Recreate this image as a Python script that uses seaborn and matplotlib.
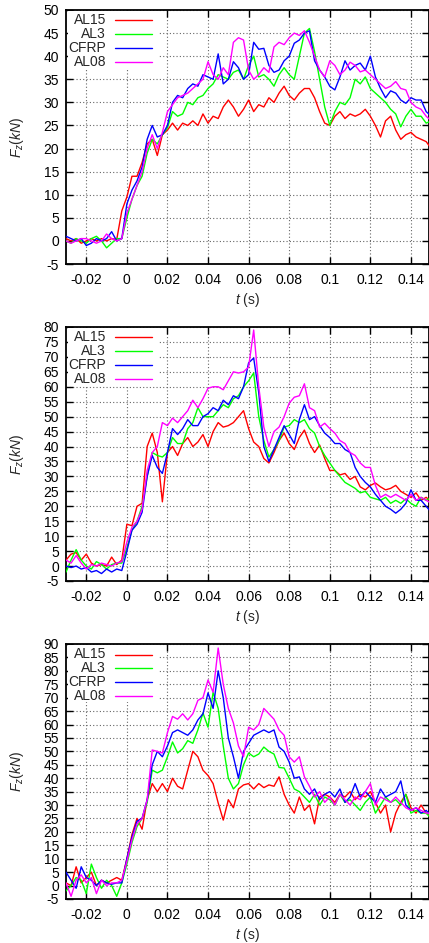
import numpy as np
import pandas as pd
import matplotlib
matplotlib.use("Agg")
import matplotlib.pyplot as plt
from matplotlib.patches import Rectangle
import seaborn as sns

# ---------------- data ----------------
T = np.round(np.arange(-0.03, 0.15001, 0.0025), 4)   # time (s), 73 samples
SPECIMENS = ["AL15", "AL3", "CFRP", "AL08"]
COLORS = ["#ff0000", "#00ff00", "#0000ff", "#ff00ff"]
XTICKS = [-0.02, 0, 0.02, 0.04, 0.06, 0.08, 0.1, 0.12, 0.14]
XTICK_LABELS = ["-0.02", "0", "0.02", "0.04", "0.06", "0.08", "0.1", "0.12", "0.14"]

# Panel 1
P1_AL15 = [0.5, 0, 0.5, -0.5, 0, 0.5, 0, 0.5, 0, 0.5, 0.3,
           6.5, 9.5, 14, 14, 17, 21, 22, 18.5, 23, 24,
           25.5, 24, 25.5, 25, 26, 25, 27.5, 25.5, 27, 26.5,
           29, 30.5, 29, 27, 28.5, 30.5, 28, 29.5, 29, 31,
           30, 32, 33.5, 31.5, 30.5, 32, 33, 33, 31, 28,
           25.5, 25, 27, 28, 26.5, 27.5, 27, 27.5, 28.5, 27,
           25, 22.5, 26, 27, 24, 22, 23, 23.5, 22.5, 22, 21.5, 20]
P1_AL3 = [0, -0.5, 0.5, 0, -0.5, 0.5, 1, 0, -1.5, -0.5, 0.5,
          0.5, 5, 9, 12, 14, 19, 22, 21, 23, 24.5,
          28, 27, 27.5, 30, 29.5, 31, 31.5, 33, 34, 36,
          35.5, 35, 36.5, 37, 35, 38, 40, 35.5, 36, 35,
          33.5, 36, 37.5, 36, 35, 40, 45, 46, 41, 35,
          29, 25, 28, 30, 29.5, 31, 35, 34, 35.5, 33,
          32, 31, 30, 28.5, 27.5, 24.7, 27, 28.5, 27, 27, 25.5, 26]
P1_CFRP = [1, 0.5, 0, 0.5, -1, -0.5, 0.5, 0, 0.5, 2, 0,
           0.5, 8, 11, 13, 16, 22, 25, 22.5, 23, 25,
           30, 31.5, 31, 33, 34, 33.5, 36, 35.5, 35, 40.5,
           34, 35, 38.8, 37.5, 35, 36, 43, 41.5, 41.7, 38,
           36.5, 37, 39, 40, 42.8, 43.5, 45, 45.5, 39, 37,
           35.5, 33.5, 32.7, 35.5, 39, 37, 38, 38.5, 37, 40,
           35.5, 33, 31, 32.5, 32, 30.5, 29.8, 31, 30.5, 30.5, 28, 27]
P1_AL08 = [0, -0.5, 0, 0.5, 0.5, 0, -0.5, 0, 1.5, 0.5, 0,
           0.5, 6, 9, 12, 15, 20, 23, 20, 23.5, 28,
           29.5, 31, 31.5, 32, 33, 34, 35, 38.8, 36, 35,
           37.5, 36, 43, 44, 43.5, 37, 35, 36, 37.5, 36.5,
           42, 43, 42.5, 44, 45, 44.5, 45.5, 43, 40, 37,
           35.5, 39, 38, 36, 37, 38.7, 38, 36.6, 37, 36,
           35, 34, 33, 33.5, 34.5, 33, 32.7, 30, 29, 28.5, 27, 26]

# Panel 2
P2_AL15 = [2, 4, 4.5, 2, 4, 1, 0, 0.5, 0, 3, 0.5,
           2, 14, 13.5, 20, 21, 40, 44.5, 38, 21.5, 38,
           40, 37, 41, 43, 40, 41.5, 44, 40, 45, 48,
           46.5, 47, 48, 50, 52, 46, 41.5, 40, 36, 34.5,
           38, 42, 44.5, 41, 39, 43, 45.5, 41, 38, 40.5,
           36, 32, 32, 30.5, 31, 29, 30, 26.5, 25.5, 27,
           27.8, 26.5, 25.5, 26, 27, 25, 24, 23, 24.5, 22, 23, 21.5]
P2_AL3 = [-2, 2, 5.5, 2, 0, -1, 1.5, 0.5, -1, 0.5, 1,
          1, 6, 12, 15, 20, 30, 38, 37, 36.5, 38,
          43, 41, 41, 46, 48, 53, 50, 50, 50, 52,
          54, 53, 56, 57, 60, 62, 64.6, 50, 42, 36.5,
          39, 42, 46.5, 47, 49, 48, 49, 46, 44.5, 40,
          37, 34.5, 32, 30, 28, 27, 26, 24.5, 25, 23,
          22.5, 22, 23, 21, 22, 21, 22.5, 21, 20, 23, 22, 23]
P2_CFRP = [0, -0.5, 0, -1, -0.5, -2, -1.5, -2.5, -1, -2, -1,
           -1.5, 5, 12, 14, 18, 30, 37, 33, 31, 38,
           46, 44, 46, 49, 47, 47, 50, 51, 53, 52,
           55.5, 54, 57, 56, 60, 68, 69.6, 58, 40, 35,
           39, 43, 47, 44, 41, 49, 54, 49, 50, 47,
           44.5, 43, 41, 41, 39, 38, 33, 30, 28, 26.5,
           24, 22, 20, 19, 17.7, 19, 21, 25.5, 22, 22, 20, 18]
P2_AL08 = [2, 1, 3.5, 1, -1, 0.5, 0, 1, 0.5, 0, 1,
           1.5, 8, 13, 15, 19, 32, 38, 40, 48, 47,
           49.5, 48, 50, 52, 55.5, 53, 56, 59.5, 60, 60,
           59, 62, 65, 64.6, 65, 66.6, 79, 60, 46.5, 40,
           45, 46.5, 50, 54.5, 56.5, 57, 61, 53, 52, 46.5,
           47.8, 46, 44.5, 42, 41, 38, 37, 34.5, 33, 33,
           27, 23, 24, 23, 24, 23, 22, 24, 22, 23, 22, 21]

# Panel 3
P3_AL15 = [1, 0, 7, 1, 3, 5, 0, 2, 1, 2, 3,
           2, 10, 19, 25, 21, 32, 38, 35, 38, 35,
           40, 37, 36, 43, 50, 48, 43, 41, 38, 30.8,
           24.4, 32, 29, 36, 37.5, 38, 36, 38, 36.5, 37.5,
           37, 40.5, 34, 30, 27, 33, 28, 30, 23, 33,
           34, 33, 31, 34, 33, 35, 32, 34, 33, 35,
           31, 27, 30, 20, 27, 31, 34, 29, 27, 30, 27, 26]
P3_AL3 = [-2, 0, 3, 2, -3, 8, 3, -1, 2, 0, -4,
          1, 8, 16, 22, 25, 31, 43, 42, 43, 48,
          53.5, 49.4, 51, 54, 53, 58, 64.3, 59, 72, 66,
          52, 40, 36, 38, 45, 49.4, 48, 49, 51.6, 50,
          49, 44, 43.8, 40, 36, 35, 33, 31, 34, 30,
          33, 32, 30, 34, 31, 32, 30, 28, 31, 33,
          27, 30, 33, 31, 32, 30, 34, 27, 28, 27, 27, 25]
P3_CFRP = [5, 2, -1, 7, 3, 2, 0, 2, 1, 0.5, 1,
           1, 10, 18, 24, 25, 32, 45, 50, 48, 52,
           57, 58, 57, 56, 58, 61.7, 64, 71.8, 66, 80,
           70, 55, 48, 40, 50, 53, 56, 57, 58, 57,
           58, 51.6, 50, 46, 40, 40.5, 36, 34, 36, 32,
           34, 35, 33, 36, 31, 33, 38, 33, 35, 33,
           31, 36, 33, 34, 35, 39, 30, 28, 29, 27, 28, 26]
P3_AL08 = [1, -4, 2, 4, 1, 3, -3, 2, 0, 1, 1,
           2, 9, 17, 23, 25, 32, 50.5, 50, 49.4, 57,
           63, 62, 64, 61.7, 64, 69, 70, 76.6, 72, 88.5,
           75, 66, 60.6, 52, 48, 59, 58, 60, 66, 64,
           62, 58, 56, 48, 46, 48, 40.5, 37, 33, 35,
           31, 33, 30, 34, 32, 30, 33, 32, 35, 38,
           30, 33, 32, 31, 33, 31, 29, 28, 29, 28, 27, 27]

PANELS = [
    ([P1_AL15, P1_AL3, P1_CFRP, P1_AL08], (-5, 50), list(range(-5, 51, 5))),
    ([P2_AL15, P2_AL3, P2_CFRP, P2_AL08], (-5, 80), list(range(-5, 81, 5))),
    ([P3_AL15, P3_AL3, P3_CFRP, P3_AL08], (-5, 90), list(range(-5, 91, 5))),
]

# ---------------- style ----------------
sns.set_style("ticks")
plt.rcParams["font.family"] = ["Liberation Sans", "DejaVu Sans"]
plt.rcParams["mathtext.fontset"] = "custom"
plt.rcParams["mathtext.rm"] = "Liberation Sans"
plt.rcParams["mathtext.it"] = "Liberation Sans:italic"
plt.rcParams["mathtext.bf"] = "Liberation Sans:bold"

fig = plt.figure(figsize=(4.29, 9.43), dpi=100)
W, H = 429, 943
ax_px = [(10, 264), (327, 581), (644, 899)]   # top, bottom in pixels
left_px = 66
ax_w = W - left_px

palette = dict(zip(SPECIMENS, COLORS))
for (series, ylim, yticks), (top, bot) in zip(PANELS, ax_px):
    ax_h = bot - top
    ax = fig.add_axes([left_px / W, 1 - bot / H, ax_w / W, ax_h / H])
    df = pd.DataFrame({
        "t": np.tile(T, len(SPECIMENS)),
        "F": np.concatenate([np.asarray(s, float) for s in series]),
        "spec": np.repeat(SPECIMENS, len(T)),
    })
    sns.lineplot(data=df, x="t", y="F", hue="spec", hue_order=SPECIMENS,
                 palette=palette, estimator=None, sort=False, lw=1.0,
                 ax=ax, legend=False, zorder=3)
    ax.set_xlim(-0.03, 0.1489)
    ax.set_ylim(*ylim)
    ax.set_xticks(XTICKS)
    ax.set_xticklabels(XTICK_LABELS)
    ax.set_yticks(yticks)
    ax.set_yticklabels([str(v) for v in yticks])
    ax.grid(True, ls=(0, (1, 2)), color="#666666", lw=0.8)
    ax.set_axisbelow(True)
    ax.tick_params(direction="in", length=5, width=1, top=True, right=True,
                   labelsize=10, colors="black")
    ax.tick_params(axis="x", pad=6.5)
    ax.tick_params(axis="y", pad=5)
    for sp in ax.spines.values():
        sp.set_linewidth(1.3)
        sp.set_color("black")
    ax.set_xlabel(r"$t$ (s)", fontsize=10)
    ax.set_ylabel(r"$F_z(kN)$", fontsize=10)
    ax.xaxis.set_label_coords(0.5, -0.105)
    ax.yaxis.set_label_coords(-0.11, 0.5)

    # gnuplot-style key: opaque box, right-aligned labels followed by samples
    ax.add_patch(Rectangle((0.006, 1 - 58 / ax_h), (157 - 66) / ax_w, 57 / ax_h,
                           transform=ax.transAxes, facecolor="white",
                           edgecolor="none", zorder=2))
    for k, (name, col) in enumerate(zip(SPECIMENS, COLORS)):
        yf = 1 - (10.5 + 13.8 * k) / ax_h
        ax.text((106 - 66) / ax_w, yf, name, transform=ax.transAxes,
                ha="right", va="center", fontsize=10, zorder=4)
        ax.plot([(115 - 66) / ax_w, (152 - 66) / ax_w], [yf, yf],
                transform=ax.transAxes, color=col, lw=1.0, zorder=4)

fig.savefig("out.png", dpi=100)
